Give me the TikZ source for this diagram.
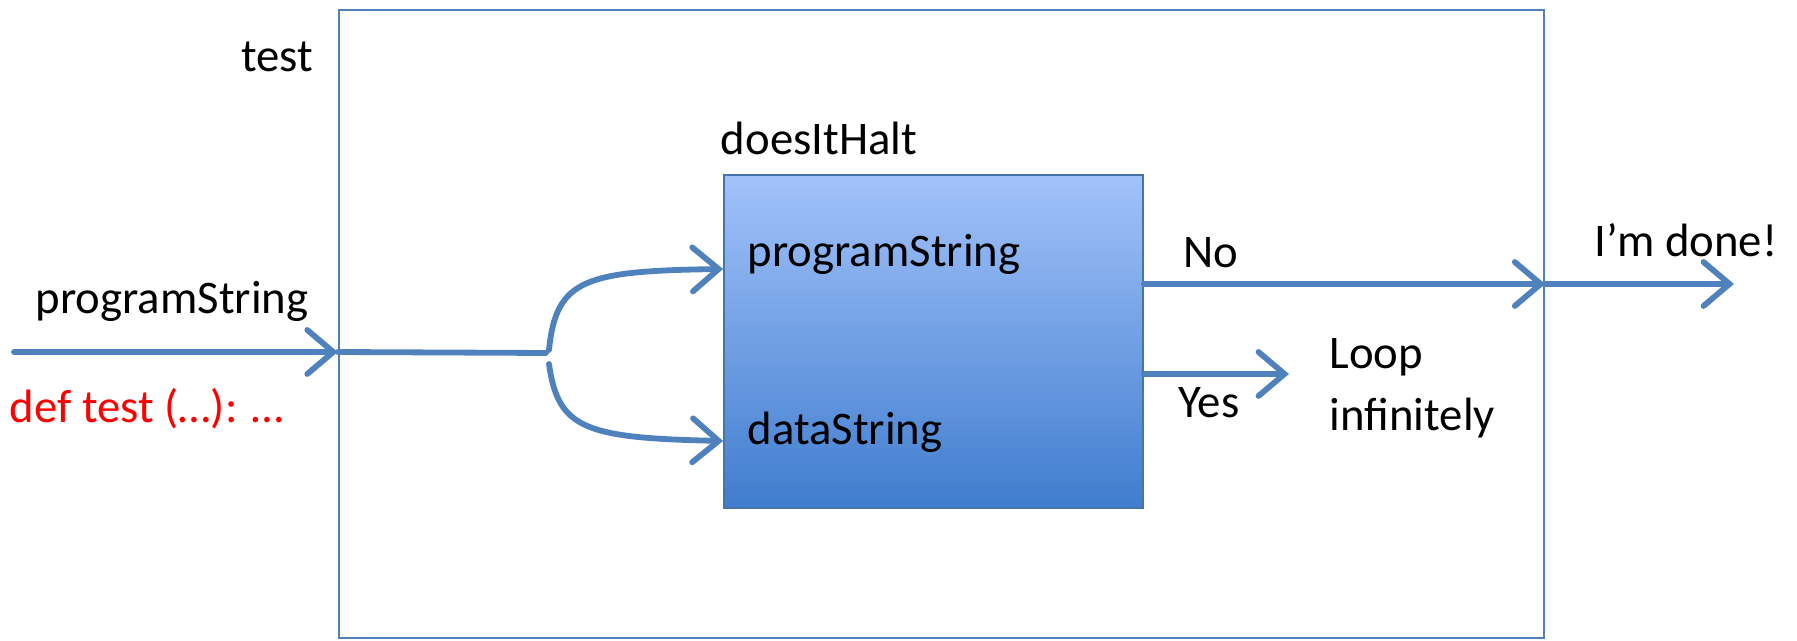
\documentclass[tikz,border=0pt]{standalone}
\usepackage{fontspec}
\setmainfont{Carlito}
\usetikzlibrary{arrows.meta}

\definecolor{wire}{RGB}{79,129,189}
\definecolor{boxtop}{RGB}{162,194,250}
\definecolor{boxbot}{RGB}{64,125,206}

\tikzset{
    flow/.style={wire,
        -{Straight Barb[length=0.26cm, width=0.44cm, line cap=round]}},
    wire/.style={draw=wire, line width=0.058cm, line cap=round},
    lbl/.style={inner sep=0pt, font=\fontsize{13.3}{17.6}\selectfont}
}

\begin{document}
\begin{tikzpicture}
    \useasboundingbox (0, 0) rectangle (17.97, 6.41);

    % outer function and the decider inside it
    \node[draw=wire, line width=0.025cm, minimum width=12.05cm, minimum height=6.28cm, inner sep=0pt] (test) at (9.415, 3.17) {};
    \node[draw=wire!90!black, line width=0.018cm, top color=boxtop, bottom color=boxbot, minimum width=4.19cm, minimum height=3.33cm, inner sep=0pt] (halt) at (9.335, 2.995) {};

    \node[lbl] (testname) at (2.77, 5.84) {test};
    \node[lbl] (haltname) at (8.19, 5.03) {doesItHalt};
    \node[lbl, anchor=west] (pin) at (7.47, 3.87) {programString};
    \node[lbl, anchor=west] (din) at (7.47, 2.09) {dataString};

    % input side
    \node[lbl] (arg) at (1.72, 3.40) {programString};
    \node[lbl, text=red] (code) at (1.47, 2.32) {def test (…): …};
    \coordinate (src) at (0.14, 2.89);
    \coordinate (fork) at (5.46, 2.88);
    \coordinate (up) at (5.49, 2.91);
    \coordinate (down) at (5.49, 2.77);

    \draw[flow] (src) -- (test.west |- src);
    \draw[wire] (test.west |- src) -- (fork);
    \draw[flow] (up) .. controls (5.56, 3.62) and (5.85, 3.70) .. (halt.west |- 0, 3.72);
    \draw[flow] (down) .. controls (5.58, 2.12) and (5.85, 2.03) .. (halt.west |- 0, 2.00);

    % output side
    \coordinate (no) at (halt.east |- 0, 3.57);
    \coordinate (yes) at (halt.east |- 0, 2.67);
    \coordinate (out) at (17.34, 3.57);
    \coordinate (loopend) at (12.89, 2.67);

    \draw[flow] (no) -- (test.east |- no);
    \draw[flow] (test.east |- no) -- (out);
    \draw[flow] (yes) -- (loopend);

    \node[lbl] (nolbl) at (12.11, 3.88) {No};
    \node[lbl] (yeslbl) at (12.09, 2.38) {Yes};
    \node[lbl] (donelbl) at (16.86, 4.01) {I’m done!};
    \node[lbl, anchor=west, align=left] (looplbl) at (13.29, 2.53) {Loop\\infinitely};
\end{tikzpicture}
\end{document}
